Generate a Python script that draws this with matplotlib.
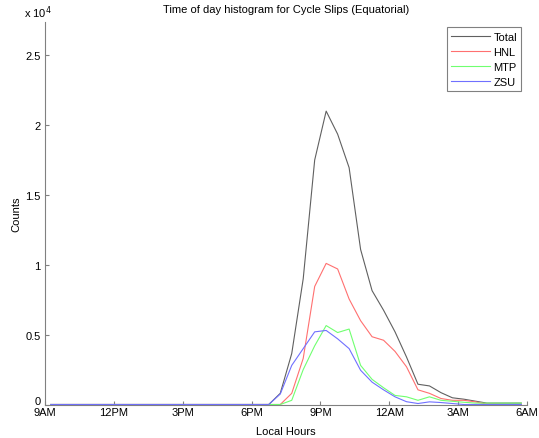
import matplotlib.pyplot as plt
import matplotlib.transforms as mtransforms
import numpy as np
from matplotlib.ticker import FuncFormatter

plt.rcParams['font.family'] = ['Liberation Sans', 'DejaVu Sans']

# half-hour bins from 9AM to 6AM (hours since midnight, centred)
hours = np.arange(9.25, 30.0, 0.5)

# counts per bin
total = [0]*19 + [0, 800, 3650, 9000, 17500, 21000, 19350, 16950, 11100, 8150,
                  6750, 5200, 3400, 1450, 1330, 850, 480, 380, 240, 100, 100, 100, 100]
hnl = [0]*19 + [0, 0, 800, 3300, 8450, 10100, 9700, 7550, 6000, 4850,
                4600, 3800, 2700, 1050, 800, 430, 300, 300, 190, 30, 20, 0, 0]
mtp = [0]*19 + [0, 0, 300, 2500, 4200, 5650, 5150, 5400, 2800, 1800,
                1200, 650, 550, 300, 550, 300, 230, 160, 100, 100, 100, 100, 100]
zsu = [0]*19 + [0, 750, 2800, 4000, 5200, 5300, 4700, 4000, 2450, 1600,
                1050, 550, 200, 70, 190, 140, 70, 0, 0, 0, 0, 0, 0]

tick_pos = [9, 12, 15, 18, 21, 24, 27, 30]
tick_lab = ['9AM', '12PM', '3PM', '6PM', '9PM', '12AM', '3AM', '6AM']

fig = plt.figure(figsize=(5.39, 4.39), dpi=100, facecolor='white')
ax = fig.add_axes([45/539, 1-405.5/439, 482/539, 382.8/439])

ax.plot(hours, total, color='#606060', lw=0.8, label='Total')
ax.plot(hours, hnl, color='#ff7070', lw=0.8, label='HNL')
ax.plot(hours, mtp, color='#70ff70', lw=0.8, label='MTP')
ax.plot(hours, zsu, color='#7070ff', lw=0.8, label='ZSU')

ax.set_xlim(9, 30)
ax.set_ylim(0, 2.74e4)
ax.set_xticks(tick_pos)
ax.set_xticklabels(tick_lab)
ax.set_yticks(np.arange(0, 2.6e4, 0.5e4))
ax.yaxis.set_major_formatter(FuncFormatter(lambda v, p: '%g' % (v/1e4)))
ax.text(-0.015, 1.005, 'x 10$^4$', transform=ax.transAxes, fontsize=8, ha='center', va='bottom')

for s in ['top', 'right']:
    ax.spines[s].set_visible(False)
for s in ['left', 'bottom']:
    ax.spines[s].set_color('#808080')
ax.tick_params(direction='in', length=3, color='#808080', labelsize=8, pad=2)
ax.tick_params(axis='y', pad=3)

# lift the zero label a little so it sits above the 9AM label
zero_lab = ax.get_yticklabels()[0]
zero_lab.set_transform(zero_lab.get_transform() +
                       mtransforms.ScaledTranslation(0, 3/72, fig.dpi_scale_trans))

ax.set_title('Time of day histogram for Cycle Slips (Equatorial)', fontsize=8, pad=7)
ax.set_xlabel('Local Hours', fontsize=8, labelpad=6)
ax.set_ylabel('Counts', fontsize=8, labelpad=3)

leg = ax.legend(loc='upper right', bbox_to_anchor=(1.0, 1.0), fontsize=8,
                fancybox=False, framealpha=1, edgecolor='#808080',
                handlelength=3.5, handletextpad=0.3, labelspacing=0.45, borderpad=0.4)
leg.get_frame().set_linewidth(0.8)

fig.savefig('out.png', dpi=100)
